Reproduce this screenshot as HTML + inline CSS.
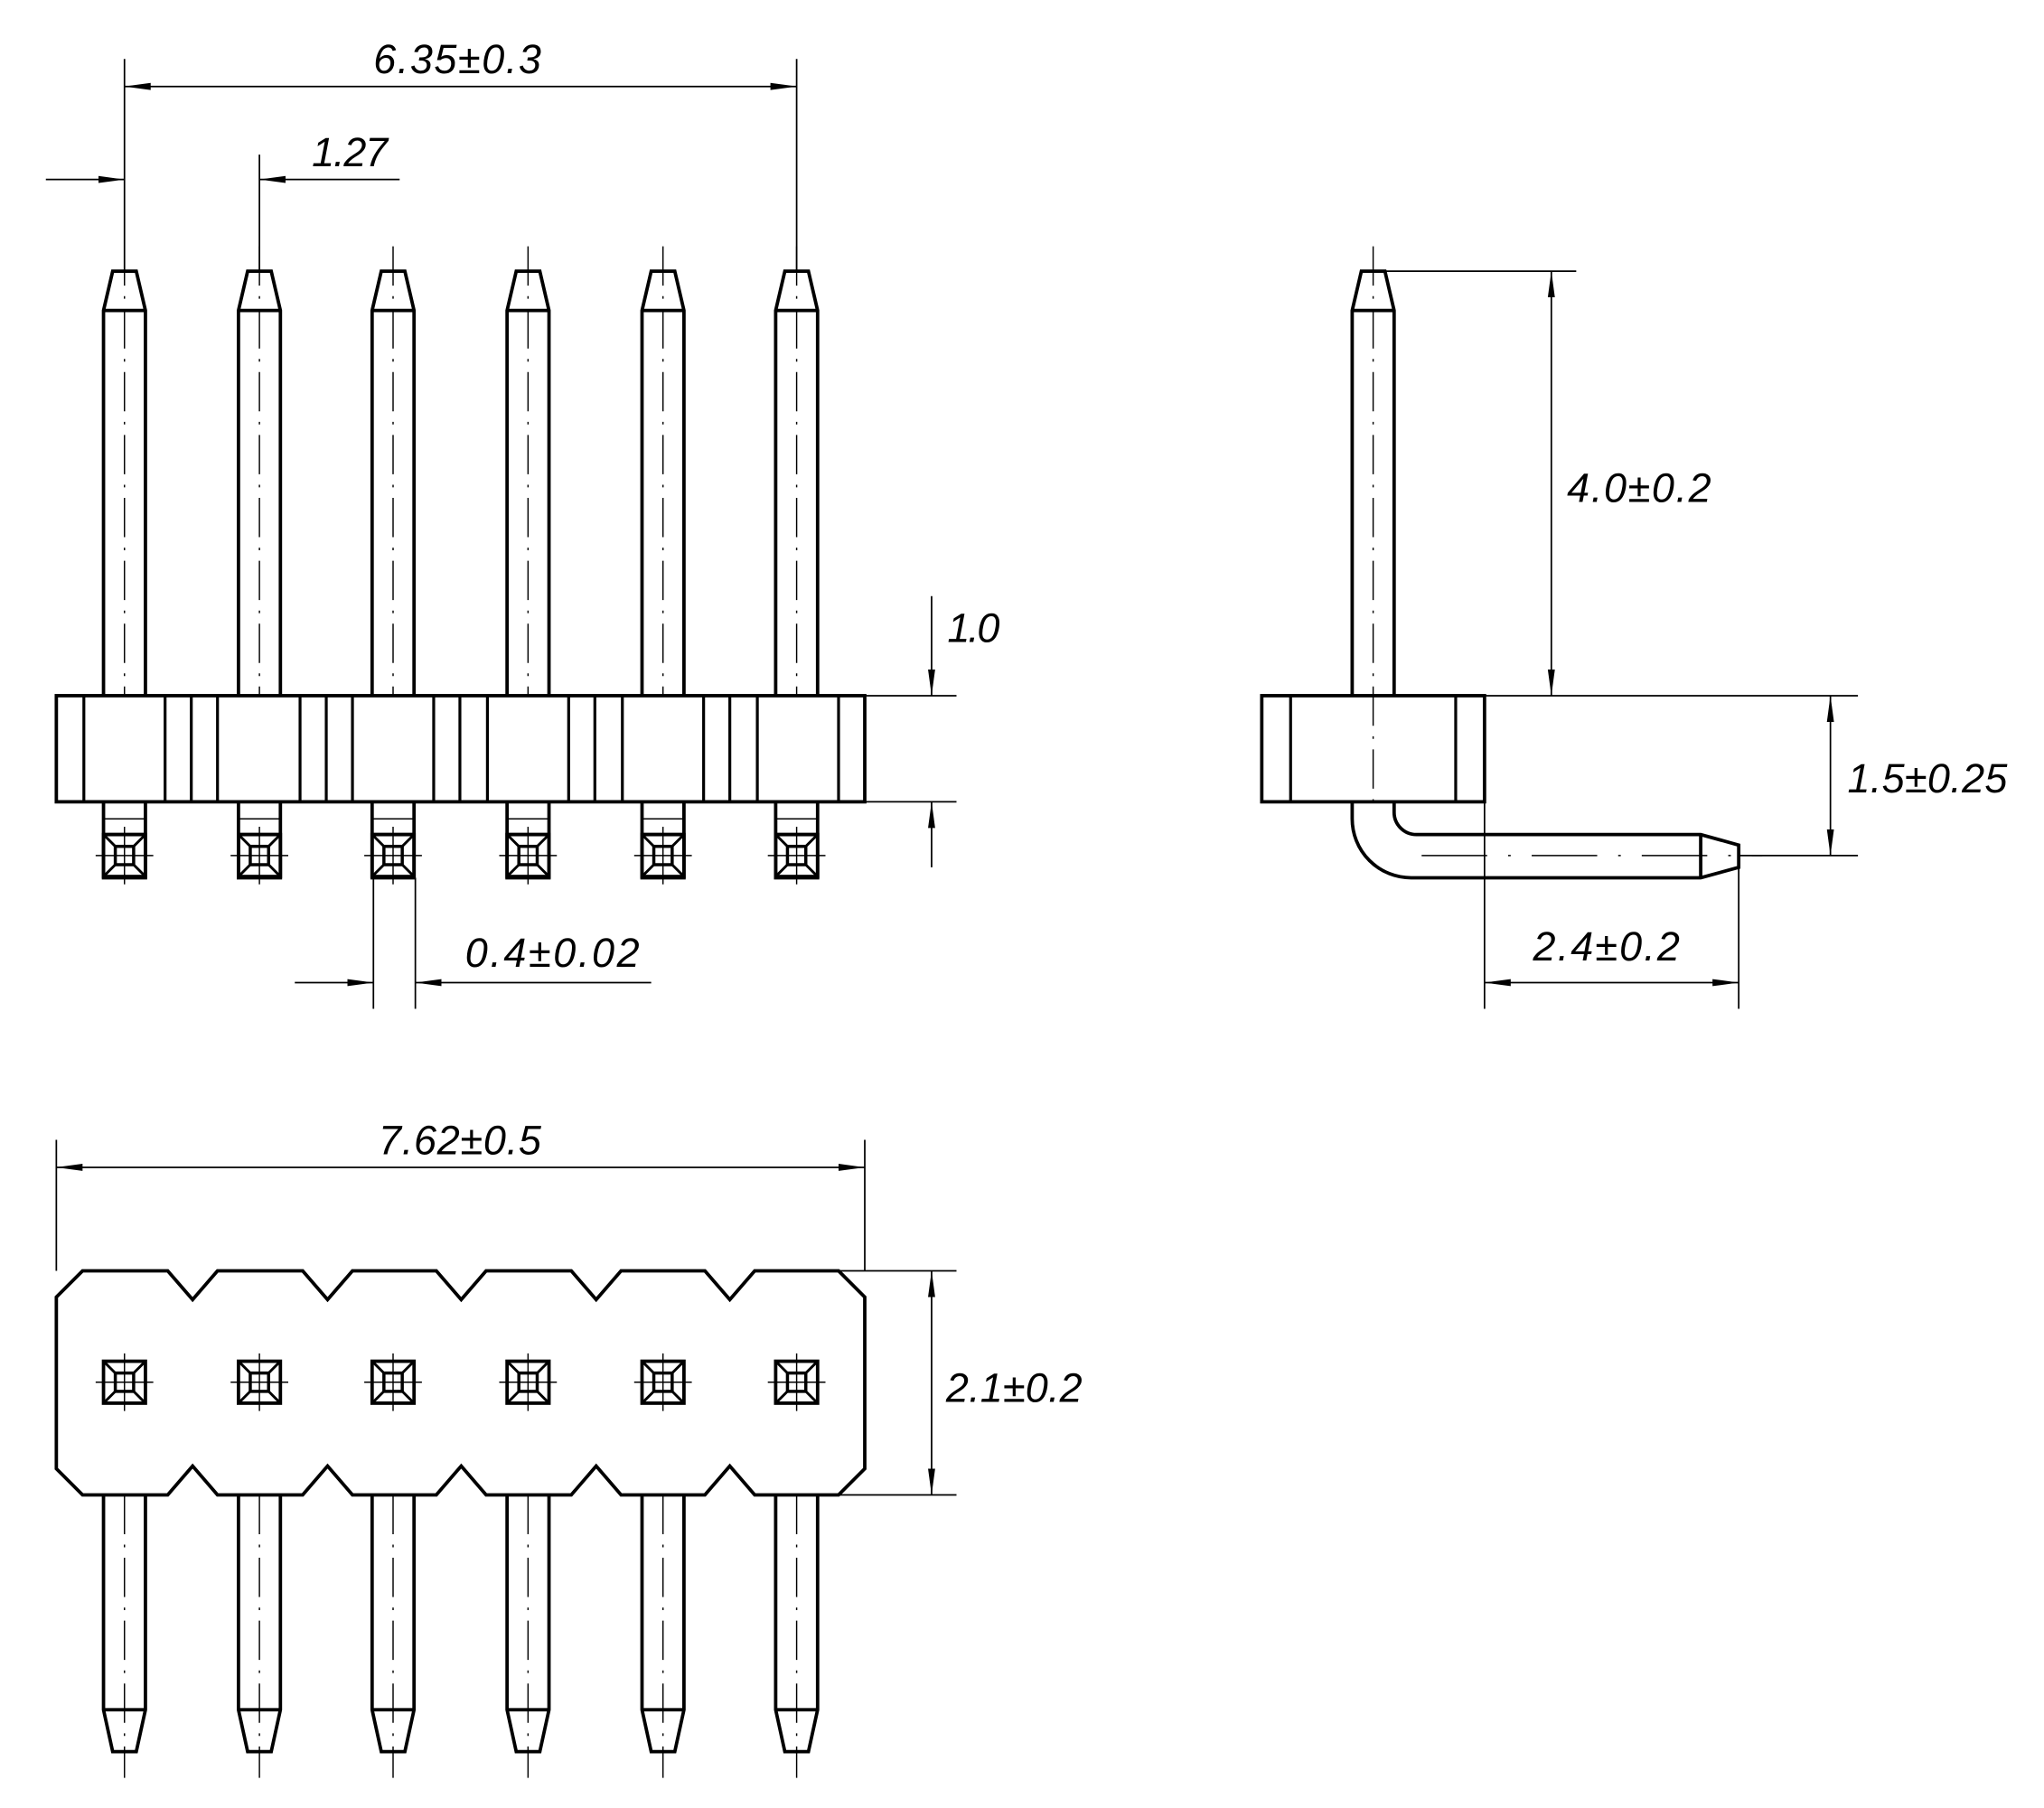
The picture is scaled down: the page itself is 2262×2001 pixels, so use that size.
<!DOCTYPE html>
<html><head><meta charset="utf-8"><style>
html,body{margin:0;padding:0;background:#fff}
svg{display:block}
text{font-family:"Liberation Sans","DejaVu Sans",sans-serif;font-style:italic;font-size:31px;fill:#000}
</style></head><body>
<svg width="2262" height="2001" viewBox="0 0 1560 1380" xmlns="http://www.w3.org/2000/svg">
<defs>
<marker id="a" viewBox="0 0 20 6" refX="20" refY="3" markerWidth="20" markerHeight="6" markerUnits="userSpaceOnUse" orient="auto-start-reverse"><path d="M0,0.3 L20,3 L0,5.7 Z" fill="#000"/></marker>
<g id="pinT">
<path d="M-16,531 L-16,237 L-9,207 L9,207 L16,237 L16,531 M-16,237 L16,237" fill="none" stroke="#000" stroke-width="2.6"/>
<line x1="0" y1="188" x2="0" y2="531" stroke="#000" stroke-width="1" stroke-dasharray="30,8,2,8"/>
</g>
<g id="sq">
<rect x="-16" y="-16" width="32" height="32" fill="none" stroke="#000" stroke-width="2.6"/>
<rect x="-7" y="-7" width="14" height="14" fill="none" stroke="#000" stroke-width="2.4"/>
<path d="M-16,-16 L-7,-7 M16,-16 L7,-7 M-16,16 L-7,7 M16,16 L7,7" stroke="#000" stroke-width="2"/>
<path d="M-22,0 L22,0 M0,-22 L0,22" stroke="#000" stroke-width="1"/>
</g>
<g id="stub">
<path d="M-16,612 L-16,670 L16,670 L16,612 M-16,637 L16,637" fill="none" stroke="#000" stroke-width="2.6"/>
<line x1="-16" y1="625" x2="16" y2="625" stroke="#000" stroke-width="1"/>
<use href="#sq" x="0" y="653"/>
</g>
<g id="pinB">
<path d="M-16,1141 L-16,1305 L-9,1337 L9,1337 L16,1305 L16,1141 M-16,1305 L16,1305" fill="none" stroke="#000" stroke-width="2.6"/>
<line x1="0" y1="1141" x2="0" y2="1357" stroke="#000" stroke-width="1" stroke-dasharray="30,8,2,8"/>
</g>
</defs>

<!-- top view pins -->
<use href="#pinT" x="95"/><use href="#pinT" x="198"/><use href="#pinT" x="300"/><use href="#pinT" x="403"/><use href="#pinT" x="506"/><use href="#pinT" x="608"/>
<use href="#stub" x="95"/><use href="#stub" x="198"/><use href="#stub" x="300"/><use href="#stub" x="403"/><use href="#stub" x="506"/><use href="#stub" x="608"/>
<rect x="43" y="531" width="617" height="81" fill="#fff" stroke="#000" stroke-width="2.6"/>
<path d="M64,531V612 M126,531V612 M146,531V612 M166,531V612 M229,531V612 M249,531V612 M269,531V612 M331,531V612 M351,531V612 M372,531V612 M434,531V612 M454,531V612 M475,531V612 M537,531V612 M557,531V612 M578,531V612 M640,531V612" stroke="#000" stroke-width="2.2"/>

<!-- top view dims -->
<g stroke="#000" stroke-width="1.2" fill="none">
<path d="M95,45V207 M608,45V207 M198,118V207"/>
<line x1="95" y1="66" x2="608" y2="66" marker-start="url(#a)" marker-end="url(#a)"/>
<line x1="35" y1="137" x2="95" y2="137" marker-end="url(#a)"/>
<line x1="305" y1="137" x2="198" y2="137" marker-end="url(#a)"/>
<path d="M660,531H730 M660,612H730"/>
<line x1="711" y1="455" x2="711" y2="531" marker-end="url(#a)"/>
<line x1="711" y1="662" x2="711" y2="612" marker-end="url(#a)"/>
<path d="M285,670V770 M317,670V770"/>
<line x1="225" y1="750" x2="285" y2="750" marker-end="url(#a)"/>
<line x1="497" y1="750" x2="317" y2="750" marker-end="url(#a)"/>
</g>
<text x="285" y="56" textLength="128">6.35±0.3</text>
<text x="238" y="127" textLength="58">1.27</text>
<text x="723" y="490" textLength="40">1.0</text>
<text x="355" y="738" textLength="133">0.4±0.02</text>

<!-- side view -->
<path d="M1032,531 L1032,237 L1039,207 L1057,207 L1064,237 L1064,531 M1032,237 L1064,237" fill="none" stroke="#000" stroke-width="2.6"/>
<line x1="1048" y1="188" x2="1048" y2="612" stroke="#000" stroke-width="1" stroke-dasharray="30,8,2,8"/>
<rect x="963" y="531" width="170" height="81" fill="none" stroke="#000" stroke-width="2.6"/>
<path d="M985,531V612 M1111,531V612" stroke="#000" stroke-width="2.2"/>
<path d="M1032,612 L1032,625 A45,45 0 0 0 1077,670 L1298,670 L1327,662 L1327,645 L1298,637 L1081,637 A17,17 0 0 1 1064,620 L1064,612 M1298,637 L1298,670" fill="none" stroke="#000" stroke-width="2.6"/>
<line x1="1085" y1="653" x2="1345" y2="653" stroke="#000" stroke-width="1" stroke-dasharray="50,16,2,16"/>
<g stroke="#000" stroke-width="1.2" fill="none">
<path d="M1050,207H1203 M1133,531H1418 M1327,653H1418 M1133,612V770 M1327,662V770"/>
<line x1="1184" y1="207" x2="1184" y2="531" marker-start="url(#a)" marker-end="url(#a)"/>
<line x1="1397" y1="531" x2="1397" y2="653" marker-start="url(#a)" marker-end="url(#a)"/>
<line x1="1133" y1="750" x2="1327" y2="750" marker-start="url(#a)" marker-end="url(#a)"/>
</g>
<text x="1196" y="383" textLength="110">4.0±0.2</text>
<text x="1410" y="605" textLength="122">1.5±0.25</text>
<text x="1170" y="733" textLength="112">2.4±0.2</text>

<!-- bottom view -->
<use href="#pinB" x="95"/><use href="#pinB" x="198"/><use href="#pinB" x="300"/><use href="#pinB" x="403"/><use href="#pinB" x="506"/><use href="#pinB" x="608"/>
<path d="M63,970 L128,970 L147,992 L166,970 L231,970 L250,992 L269,970 L333,970 L352,992 L371,970 L436,970 L455,992 L474,970 L538,970 L557,992 L576,970 L640,970 L660,990 L660,1121 L640,1141 L576,1141 L557,1119 L538,1141 L474,1141 L455,1119 L436,1141 L371,1141 L352,1119 L333,1141 L269,1141 L250,1119 L231,1141 L166,1141 L147,1119 L128,1141 L63,1141 L43,1121 L43,990 Z" fill="#fff" stroke="#000" stroke-width="2.6"/>
<g transform="translate(0,1055)"><use href="#sq" x="95"/><use href="#sq" x="198"/><use href="#sq" x="300"/><use href="#sq" x="403"/><use href="#sq" x="506"/><use href="#sq" x="608"/></g>
<g stroke="#000" stroke-width="1.2" fill="none">
<path d="M43,870V970 M660,870V970 M640,970H730 M640,1141H730"/>
<line x1="43" y1="891" x2="660" y2="891" marker-start="url(#a)" marker-end="url(#a)"/>
<line x1="711" y1="970" x2="711" y2="1141" marker-start="url(#a)" marker-end="url(#a)"/>
</g>
<text x="289" y="881" textLength="124">7.62±0.5</text>
<text x="722" y="1070" textLength="104">2.1±0.2</text>
</svg>
</body></html>
